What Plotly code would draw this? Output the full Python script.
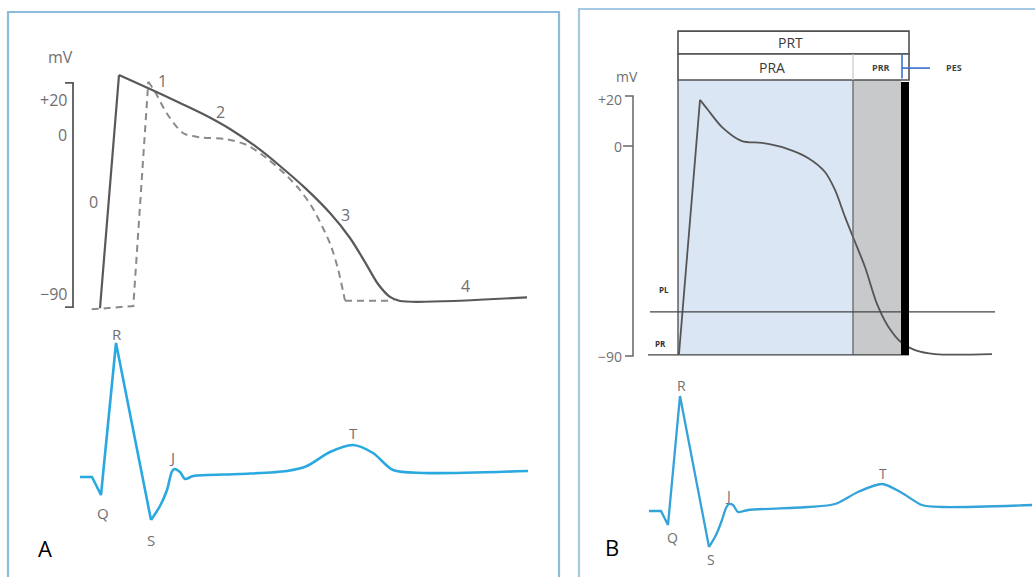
import plotly.graph_objects as go

# ---------------- Panel A : ventricular action potential (ms, mV) ----------------
a_solid_up_t = [0, 19]
a_solid_up_v = [-97.9, 33.9]
a_solid_rep_t = [19, 50, 80, 105, 130, 155, 180, 205, 230, 250, 265, 278, 290, 300, 427]
a_solid_rep_v = [33.9, 26.0, 18.1, 11.3, 3.4, -6.2, -17.5, -29.9, -44.1, -58.2, -71.8, -84.2, -91.5, -93.8, -91.7]

a_dash_up_t = [-8.3, 33.3, 48.3]
a_dash_up_v = [-98.5, -96.6, 30.1]
a_dash_rep_t = [48.3, 55, 66.7, 83.3, 100, 126.7, 146.7, 166, 180, 187, 200, 212, 222, 231, 238, 243, 245]
a_dash_rep_v = [30.1, 24.5, 12.3, 1.0, -1.3, -2.4, -5.6, -12.8, -19.5, -23.2, -31.1, -40.7, -51.4, -62.7, -75.7, -88.1, -93.6]
a_dash_tail_t = [245, 293.3]
a_dash_tail_v = [-93.6, -93.6]

a_scale_ticks = ["+20", "0", "−90"]
a_scale_vals = [20, 0, -90]
a_bracket_top, a_bracket_bot = 29.4, -97.2

a_phase_labels = ["0", "1", "2", "3", "4"]
a_phase_t = [-7, 62, 120, 245, 365]
a_phase_v = [-37.9, 30.5, 13.0, -45.2, -85.3]

# Panel A ECG (ms, mV)
a_qrs_t = [-20, -8, 1, 16, 51]
a_qrs_v = [-0.01, -0.01, -0.19, 1.33, -0.44]
a_st_t = [51, 60, 67, 71.7, 74.3, 80, 85, 93.3, 140, 187, 207, 230, 253, 273, 293, 323, 428]
a_st_v = [-0.44, -0.30, -0.14, 0.04, 0.07, 0.04, -0.03, 0.0, 0.02, 0.05, 0.10, 0.24, 0.31, 0.23, 0.06, 0.03, 0.05]
a_ecg_labels = ["R", "Q", "S", "J", "T"]
a_ecg_lab_t = [17, 3, 51, 72, 253]
a_ecg_lab_v = [1.42, -0.37, -0.64, 0.19, 0.43]

# ---------------- Panel B : refractory periods (ms, mV) ----------------
b_up_t = [0, 21]
b_up_v = [-88.9, 19.7]
b_rep_t = [21, 29, 43, 63, 83, 109, 129, 146, 156, 166, 174, 186, 198, 209, 223, 236, 256, 313]
b_rep_v = [19.7, 15.4, 8.1, 2.1, 1.3, -1.3, -5.1, -11.1, -18.8, -30.3, -38.9, -51.7, -67.5, -77.0, -84.2, -87.2, -88.9, -88.9]

b_scale_ticks = ["+20", "0", "−90"]
b_scale_vals = [20, 0, -90]
b_bracket_top, b_bracket_bot = 21.4, -89.7

# period boundaries (ms): PRA | PRR | PES
b_period_start = -1
b_pra_end = 174
b_prr_end = 222
b_pes_end = 230
b_rest_level = -89.3
b_header_levels = [28.2, 39.3, 49.1]
b_pl_level = -70.9
b_pr_level = -89.3

b_ecg_qrs_t = [-30, -18, -11, 1, 30]
b_ecg_qrs_v = [-0.01, -0.01, -0.15, 1.14, -0.37]
b_ecg_st_t = [30, 37, 43, 47, 50, 54, 59, 69, 129, 156, 179, 203, 223, 243, 263, 353]
b_ecg_st_v = [-0.37, -0.25, -0.10, 0.02, 0.06, 0.05, -0.02, 0.0, 0.03, 0.06, 0.18, 0.26, 0.17, 0.05, 0.03, 0.05]
b_ecg_labels = ["R", "Q", "S", "J", "T"]
b_ecg_lab_t = [2, -7, 32, 49, 204]
b_ecg_lab_v = [1.25, -0.27, -0.49, 0.15, 0.37]

# ---------------- figure ----------------
W, H = 1035, 577
GRAY = "#595959"
LABEL = "#707070"
CYAN = "#2aa9e0"
FONT = "Open Sans"

fig = go.Figure()

def line(x, y, xa, ya, color, width, dash="solid", shape="linear"):
    fig.add_trace(go.Scatter(x=x, y=y, xaxis=xa, yaxis=ya, mode="lines",
                             line=dict(color=color, width=width, dash=dash, shape=shape, smoothing=0.8),
                             hoverinfo="skip", showlegend=False))

# Panel A AP
line(a_dash_up_t, a_dash_up_v, "x", "y", "#8a8a8a", 2, "7px,5px")
line(a_dash_rep_t, a_dash_rep_v, "x", "y", "#8a8a8a", 2, "7px,5px", "spline")
line(a_dash_tail_t, a_dash_tail_v, "x", "y", "#8a8a8a", 2, "7px,5px")
line(a_solid_up_t, a_solid_up_v, "x", "y", GRAY, 2.2)
line(a_solid_rep_t, a_solid_rep_v, "x", "y", GRAY, 2.2, shape="spline")
# bracket A
line([-35, -27, -27, -35], [a_bracket_top, a_bracket_top, a_bracket_bot, a_bracket_bot], "x", "y", GRAY, 1.8)

# Panel A ECG
line(a_qrs_t, a_qrs_v, "x", "y2", CYAN, 2.6)
line(a_st_t, a_st_v, "x", "y2", CYAN, 2.6, shape="spline")

# Panel B shapes
shapes = []
def rect(x0, x1, y0, y1, fill, lc, lw, layer="below"):
    shapes.append(dict(type="rect", xref="x3", yref="y3", x0=x0, x1=x1, y0=y0, y1=y1,
                       fillcolor=fill, line=dict(color=lc, width=lw), layer=layer))
def seg(x0, x1, y0, y1, color, width, xref="x3", yref="y3"):
    shapes.append(dict(type="line", xref=xref, yref=yref, x0=x0, x1=x1, y0=y0, y1=y1,
                       line=dict(color=color, width=width), layer="above"))

rect(b_period_start, b_pra_end, b_rest_level, b_header_levels[0], "#dbe6f4", "rgba(0,0,0,0)", 0)
rect(b_pra_end, b_prr_end, b_rest_level, b_header_levels[0], "#c7c9cb", "rgba(0,0,0,0)", 0)
rect(b_period_start, b_pes_end, b_header_levels[1], b_header_levels[2], "white", "#505050", 1.6)
rect(b_period_start, b_pes_end, b_header_levels[0], b_header_levels[1], "white", "#505050", 1.6)
seg(b_pra_end, b_pra_end, b_header_levels[0], b_header_levels[1], "#c8c8c8", 1.2)
seg(b_period_start, b_period_start, b_rest_level, b_header_levels[0], "#555555", 1.4)
seg(b_pra_end, b_pra_end, b_rest_level, b_header_levels[0], "#666666", 1.3)
seg(-29, 316, b_pl_level, b_pl_level, "#444444", 1.3)
seg(-31, b_pes_end, b_pr_level, b_pr_level, "#444444", 1.3)
shapes.append(dict(type="rect", xref="x3", yref="y3", x0=b_prr_end, x1=b_pes_end,
                   y0=b_rest_level, y1=b_header_levels[0] - 0.8, fillcolor="black",
                   line=dict(width=0), layer="above"))
seg(b_prr_end + 1, b_prr_end + 1, b_header_levels[0] + 0.6, b_header_levels[1] - 0.2, "#3b6fd0", 1.6)
seg(b_prr_end + 1, 251, 33.3, 33.3, "#3b6fd0", 1.6)

# panel frames (paper)
shapes.append(dict(type="rect", xref="paper", yref="paper", x0=8 / W, x1=559 / W,
                   y0=-0.1, y1=1 - 12 / H, line=dict(color="#8dbbdb", width=2.2), layer="below"))
shapes.append(dict(type="rect", xref="paper", yref="paper", x0=579 / W, x1=1.05,
                   y0=-0.1, y1=1 - 9 / H, line=dict(color="#a3c9e3", width=2.2), layer="below"))

# Panel B AP
line(b_up_t, b_up_v, "x3", "y3", "#555555", 1.8)
line(b_rep_t, b_rep_v, "x3", "y3", "#555555", 1.8, shape="spline")
line([-54, -46, -46, -54], [b_bracket_top, b_bracket_top, b_bracket_bot, b_bracket_bot], "x3", "y3", "#666666", 1.5)
line([-56, -46], [0, 0], "x3", "y3", "#666666", 1.5)

# Panel B ECG
line(b_ecg_qrs_t, b_ecg_qrs_v, "x3", "y4", "#33a3da", 2.3)
line(b_ecg_st_t, b_ecg_st_v, "x3", "y4", "#33a3da", 2.3, shape="spline")

ann = []
def text(t, x, y, xr, yr, size, color=LABEL, xanchor="center", bold=False):
    ann.append(dict(text=("<b>%s</b>" % t) if bold else t, x=x, y=y, xref=xr, yref=yr,
                    showarrow=False, xanchor=xanchor, yanchor="middle",
                    font=dict(family=FONT, size=size, color=color)))

text("mV", -40, 44, "x", "y", 16)
for lab, v in zip(a_scale_ticks, a_scale_vals):
    text(lab, -31, v, "x", "y", 16, xanchor="right")
for lab, t, v in zip(a_phase_labels, a_phase_t, a_phase_v):
    text(lab, t, v, "x", "y", 16)
for lab, t, v in zip(a_ecg_labels, a_ecg_lab_t, a_ecg_lab_v):
    text(lab, t, v, "x", "y2", 15)

text("mV", -52, 29.5, "x3", "y3", 14)
for lab, v in zip(b_scale_ticks, b_scale_vals):
    text(lab, -55, v, "x3", "y3", 14, xanchor="right")
text("PRT", 111, 44.2, "x3", "y3", 14, color="#3a3a3a")
text("PRA", 93, 33.6, "x3", "y3", 14, color="#3a3a3a")
text("PRR", 202, 33.6, "x3", "y3", 9, color="#444444", bold=True)
text("PES", 275, 33.6, "x3", "y3", 9, color="#444444", bold=True)
text("PL", -15, -61.5, "x3", "y3", 8, color="#333333", bold=True)
text("PR", -19, -84.6, "x3", "y3", 8, color="#333333", bold=True)
for lab, t, v in zip(b_ecg_labels, b_ecg_lab_t, b_ecg_lab_v):
    text(lab, t, v, "x3", "y4", 14)

ann.append(dict(text="A", x=36 / W, y=1 - 565 / H, xref="paper", yref="paper", showarrow=False,
                font=dict(family=FONT, size=22, color="black")))
ann.append(dict(text="B", x=612 / W, y=1 - 564 / H, xref="paper", yref="paper", showarrow=False,
                font=dict(family=FONT, size=22, color="black")))

def yr(c, d):
    return [(c - H) / d, c / d]

hidden = dict(visible=False, showgrid=False, zeroline=False, fixedrange=True)
fig.update_layout(
    width=W, height=H, margin=dict(l=0, r=0, t=0, b=0),
    paper_bgcolor="white", plot_bgcolor="rgba(0,0,0,0)",
    xaxis=dict(domain=[0, 1], range=[-100, W - 100], **hidden),
    yaxis=dict(domain=[0, 1], range=yr(135, 1.77), **hidden),
    yaxis2=dict(domain=[0, 1], range=yr(476, 100), overlaying="y", anchor="x", **hidden),
    xaxis3=dict(domain=[0, 1], range=[-679, W - 679], overlaying="x", anchor="y3", **hidden),
    yaxis3=dict(domain=[0, 1], range=yr(146, 2.34), overlaying="y", anchor="x3", **hidden),
    yaxis4=dict(domain=[0, 1], range=yr(510, 100), overlaying="y", anchor="x3", **hidden),
    shapes=shapes, annotations=ann,
)

fig.write_html("out.html", config={"displayModeBar": False},
               post_script="document.body.style.margin='0';")
